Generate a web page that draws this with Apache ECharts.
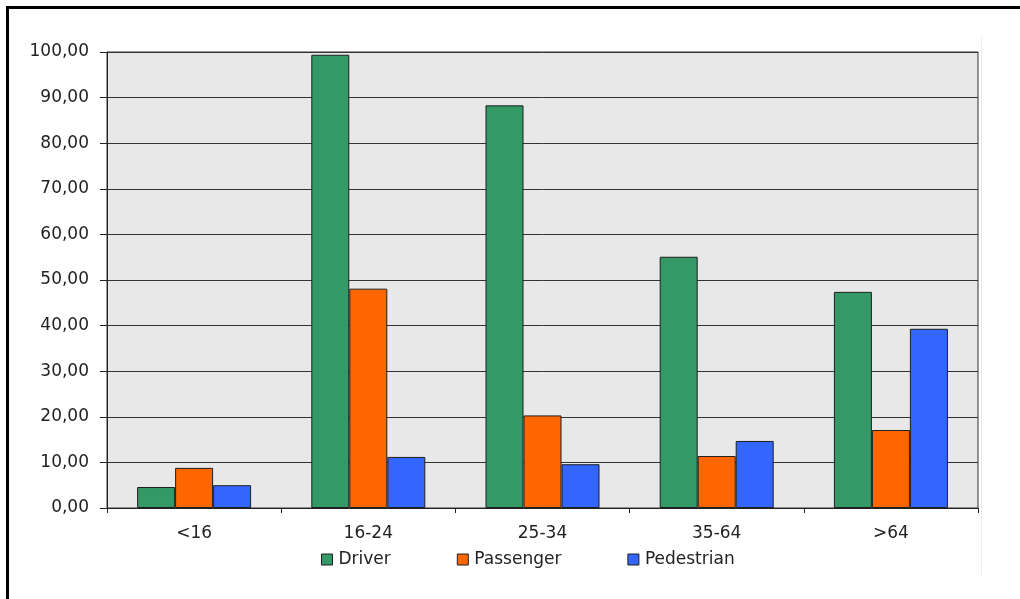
<!DOCTYPE html>
<html>
<head>
<meta charset="utf-8">
<script src="https://cdn.jsdelivr.net/npm/echarts@6/dist/echarts.min.js"></script>
<style>
  html, body { margin: 0; padding: 0; background: #ffffff; }
  #wrap { position: relative; width: 1020px; height: 599px; overflow: hidden; }
  #chart { position: absolute; left: 0; top: 0; width: 1020px; height: 599px; }
  #frame { position: absolute; left: 6px; top: 6px; width: 1100px; height: 700px;
           border-top: 3px solid #000; border-left: 3px solid #000; pointer-events: none; }
  #edge { position: absolute; left: 981px; top: 37px; width: 1px; height: 538px;
          background: #ececec; pointer-events: none; }
</style>
</head>
<body>
<div id="wrap">
  <div id="chart"></div>
  <div id="edge"></div>
  <div id="frame"></div>
</div>
<script>
// Age groups on the category axis
const ageGroups = ['<16', '16-24', '25-34', '35-64', '>64'];

// Rates per age group for each road-user type
const driver     = [4.6, 99.4, 88.3, 55.1, 47.4];
const passenger  = [8.8, 48.1, 20.3, 11.4, 17.1];
const pedestrian = [5.0, 11.2,  9.6, 14.7, 39.3];

// Value axis settings
const yMin = 0, yMax = 100, yStep = 10;

const FONT = 'DejaVu Sans';
const TEXT = '#222222';
const SIZE = 17;

const chart = echarts.init(document.getElementById('chart'), null, { renderer: 'canvas' });

function barSeries(name, data, color) {
  return {
    name: name,
    type: 'bar',
    data: data,
    barWidth: 38,
    barGap: '0%',
    itemStyle: { color: color, borderColor: '#1f1f1f', borderWidth: 1 },
    emphasis: { disabled: true }
  };
}

chart.setOption({
  animation: false,
  textStyle: { fontFamily: FONT },
  grid: {
    left: 107, right: 42, top: 52, bottom: 91,
    show: true,
    backgroundColor: '#e8e8e8',
    borderColor: '#333333',
    borderWidth: 1
  },
  legend: {
    left: 321, top: 551, padding: 0,
    itemWidth: 11, itemHeight: 11, itemGap: 66,
    icon: 'rect',
    textStyle: { fontFamily: FONT, fontSize: SIZE, color: TEXT, padding: [0, 0, 0, 1] },
    itemStyle: { borderColor: '#1f1f1f', borderWidth: 1 },
    data: ['Driver', 'Passenger', 'Pedestrian']
  },
  xAxis: {
    type: 'category',
    data: ageGroups,
    axisLine: { lineStyle: { color: '#222222', width: 1 } },
    axisTick: { show: true, length: 5, lineStyle: { color: '#222222' } },
    axisLabel: { fontFamily: FONT, fontSize: SIZE, color: TEXT, margin: 17 },
    splitLine: { show: false }
  },
  yAxis: {
    type: 'value',
    min: yMin, max: yMax, interval: yStep,
    axisLine: { show: true, lineStyle: { color: '#222222', width: 1 } },
    axisTick: { show: true, length: 7, lineStyle: { color: '#222222' } },
    axisLabel: {
      fontFamily: FONT, fontSize: SIZE, color: TEXT, margin: 18,
      formatter: v => v.toFixed(2).replace('.', ',')
    },
    splitLine: { show: true, lineStyle: { color: '#333333', width: 1 } }
  },
  series: [
    barSeries('Driver', driver, '#339966'),
    barSeries('Passenger', passenger, '#ff6600'),
    barSeries('Pedestrian', pedestrian, '#3366ff')
  ]
});
</script>
</body>
</html>
